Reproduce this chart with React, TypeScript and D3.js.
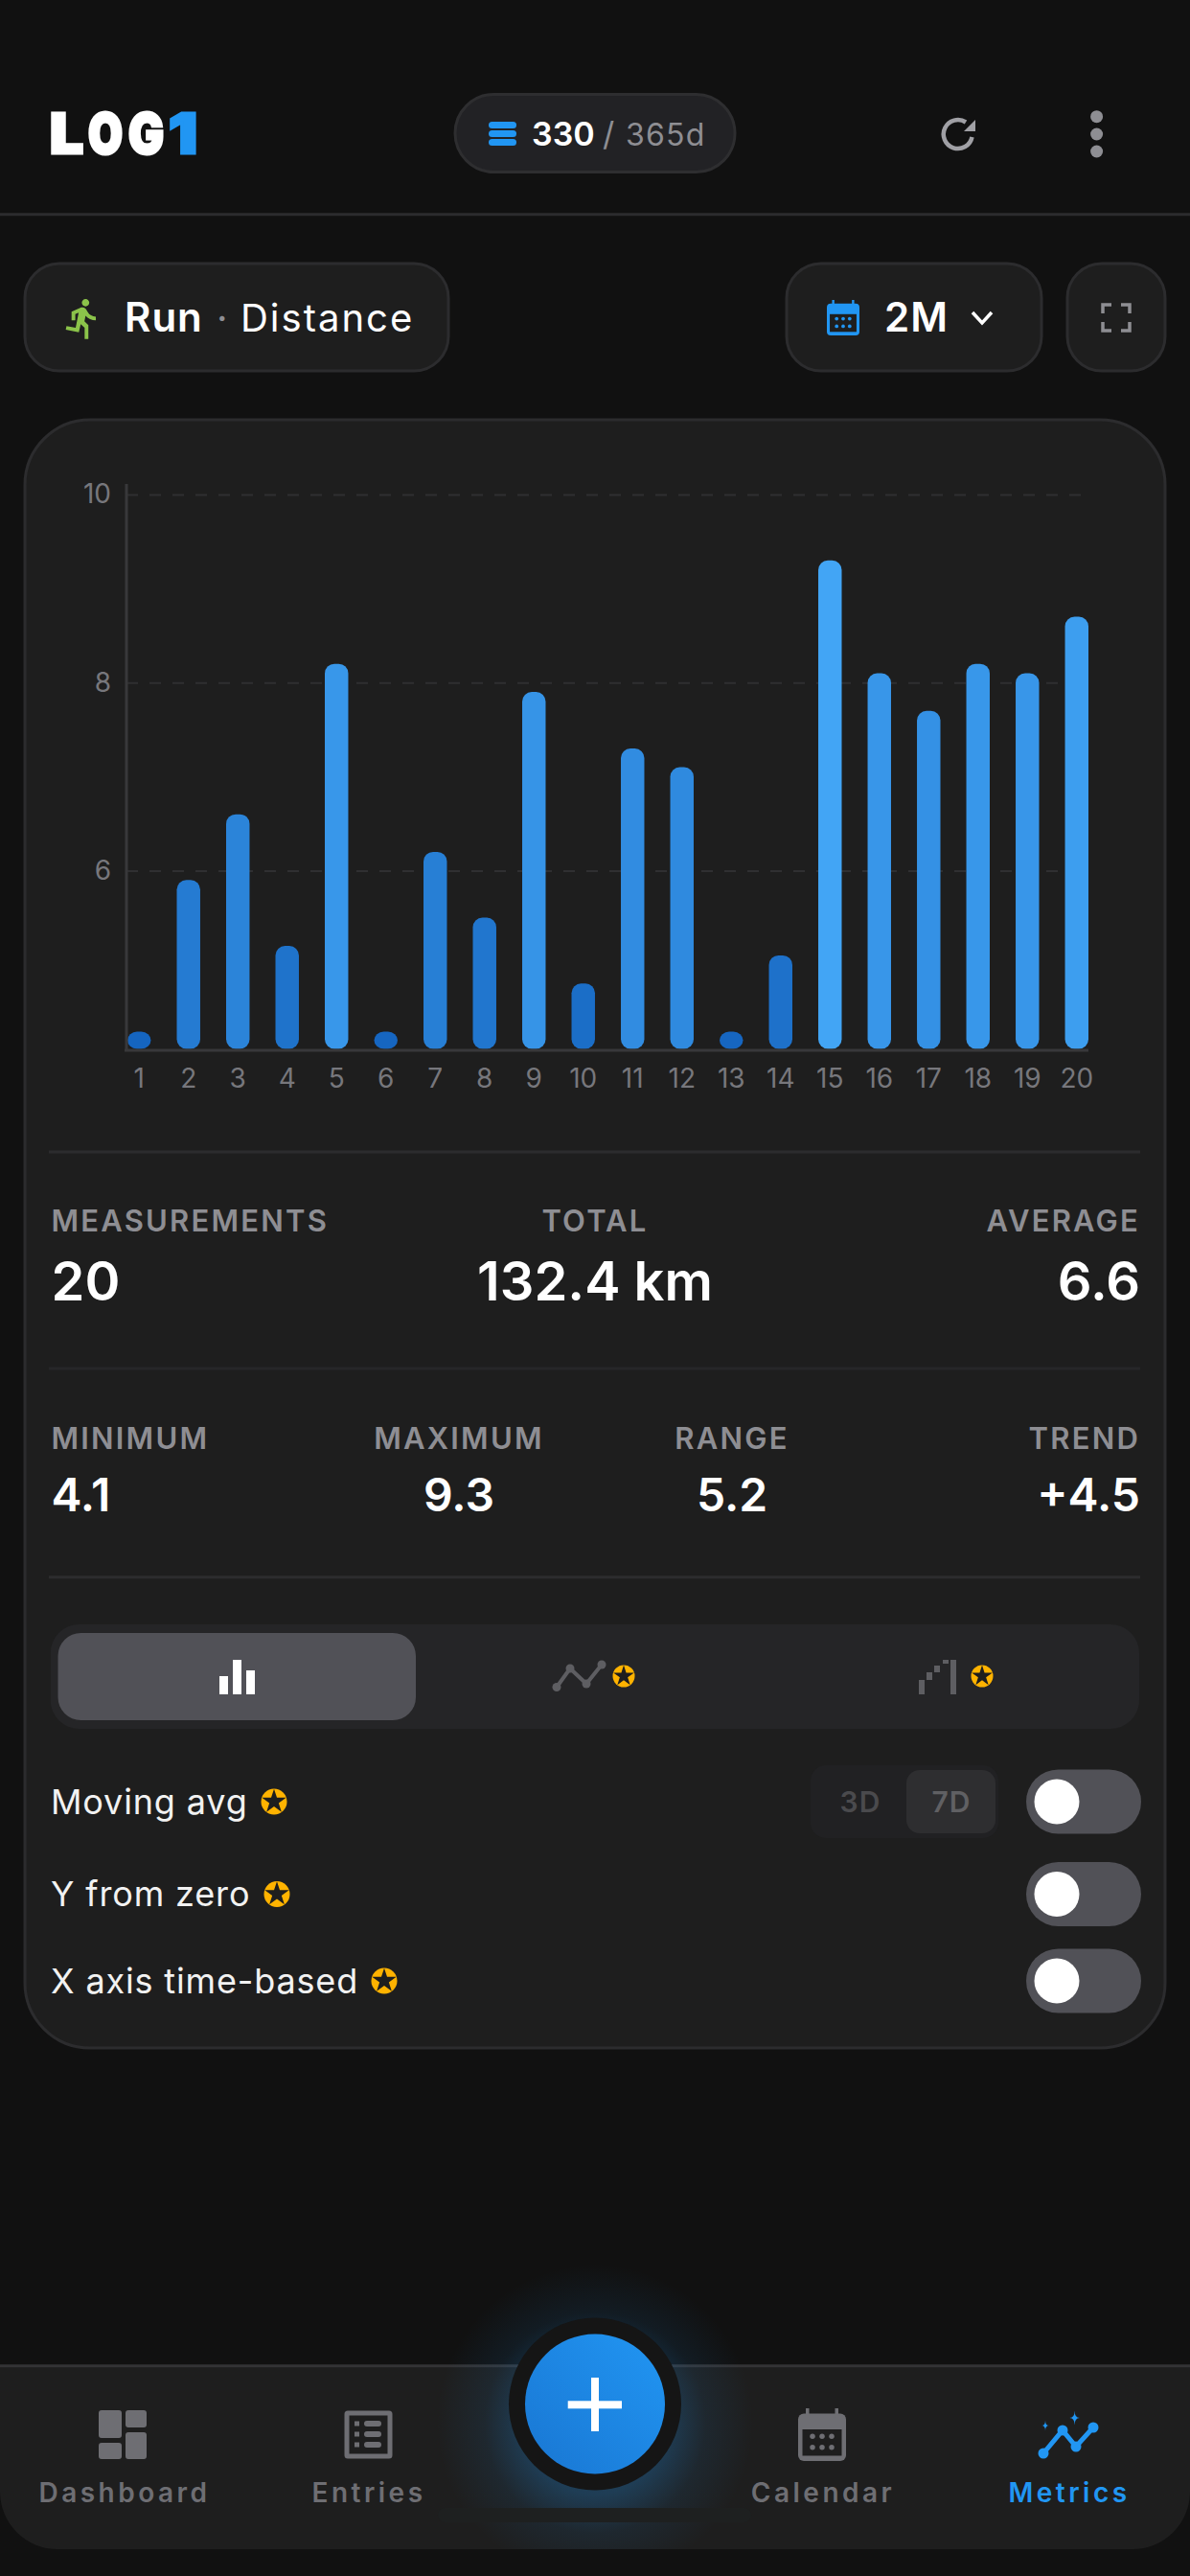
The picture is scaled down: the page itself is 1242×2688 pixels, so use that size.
import * as d3 from 'd3'
import { useEffect, useRef } from 'react'

const days = d3.range(1, 21).map(String)
const distance = [4.1, 5.9, 6.6, 5.2, 8.2, 4.2, 6.2, 5.5, 7.9, 4.8, 7.3, 7.1, 4.2, 5.1, 9.3, 8.1, 7.7, 8.2, 8.1, 8.7]
const yTicks = [6, 8, 10]
const topStatLabels = ['MEASUREMENTS', 'TOTAL', 'AVERAGE']
const topStatValues = ['20', '132.4 km', '6.6']
const lowStatLabels = ['MINIMUM', 'MAXIMUM', 'RANGE', 'TREND']
const lowStatValues = ['4.1', '9.3', '5.2', '+4.5']
const toggleLabels = ['Moving avg', 'Y from zero', 'X axis time-based']
const navLabels = ['Dashboard', 'Entries', 'Calendar', 'Metrics']
const logoLetters = ['L', 'O', 'G', '1']

const FONT = 'Inter, sans-serif'
const BLUE = '#2196f3'
const GRAY = '#8e8e93'
const NAVGRAY = '#6e6e73'
const AMBER = '#ffb300'
const LINE = '#2c2c2e'
const MIN_BAR = 18

const spark = (cx, cy, h) => `M${cx},${cy - h}Q${cx},${cy} ${cx + h * 0.7},${cy}Q${cx},${cy} ${cx},${cy + h}Q${cx},${cy} ${cx - h * 0.7},${cy}Q${cx},${cy} ${cx},${cy - h}Z`

const Star = ({ x, y, r = 13 }) => (
  <g transform={`translate(${x},${y})`}>
    <circle r={r} fill={AMBER} />
    <path d={d3.symbol(d3.symbolStar, r * r * 1.1)()} fill="#1e1e1e" />
  </g>
)

const Toggle = ({ y }) => (
  <g>
    <rect x={1071} y={y - 33.5} width={120} height={67} rx={33.5} fill="#515157" />
    <circle cx={1103} cy={y} r={23.5} fill="#fff" />
  </g>
)

const CalendarIcon = ({ x, y, w, h, color, bodyFill }) => (
  <g>
    <rect x={x} y={y + h * 0.1} width={w} height={h * 0.9} rx={w * 0.12} fill={color} />
    <rect x={x + w * 0.16} y={y} width={w * 0.07} height={h * 0.18} fill={color} />
    <rect x={x + w * 0.77} y={y} width={w * 0.07} height={h * 0.18} fill={color} />
    <rect x={x + w * 0.09} y={y + h * 0.4} width={w * 0.82} height={h * 0.5} fill={bodyFill} />
    {[0.3, 0.5, 0.7].flatMap(fx => [0.53, 0.74].map(fy => (
      <circle key={`${fx}${fy}`} cx={x + w * fx} cy={y + h * fy} r={w * 0.055} fill={color} />
    )))}
  </g>
)

export default function App() {
  const chartRef = useRef(null)

  useEffect(() => {
    const g = d3.select(chartRef.current)
    g.selectAll('*').remove()

    const xScale = d3.scaleBand().domain(days).range([133, 1136]).paddingInner(0.525).paddingOuter(0)
    const yScale = d3.scaleLinear().domain([4.09, 10]).range([1096, 516])
    const color = d3.scaleLinear().domain([4.1, 9.3]).range(['#1565c0', '#42a5f5'])

    // dashed grid
    const grid = g.append('g').attr('transform', 'translate(132,0)')
      .call(d3.axisLeft(yScale).tickValues(yTicks).tickSize(-1004).tickFormat(() => ''))
    grid.select('.domain').remove()
    grid.selectAll('.tick line').attr('stroke', '#2f2f31').attr('stroke-width', 2).attr('stroke-dasharray', '12 12')

    // bars
    g.selectAll('rect.bar')
      .data(distance)
      .enter()
      .append('rect')
      .attr('class', 'bar')
      .attr('x', (d, i) => xScale(days[i]))
      .attr('width', xScale.bandwidth())
      .attr('y', d => Math.min(yScale(d), 1094.5 - MIN_BAR))
      .attr('height', d => Math.max(1094.5 - yScale(d), MIN_BAR))
      .attr('rx', 10)
      .attr('fill', d => color(d))

    // y labels
    const yAxis = g.append('g').attr('transform', 'translate(132,0)')
      .call(d3.axisLeft(yScale).tickValues(yTicks).tickSize(0).tickPadding(16).tickFormat(d3.format('d')))
    yAxis.select('.domain').remove()
    yAxis.selectAll('text').attr('fill', '#77777c').attr('font-size', 28).attr('font-family', FONT)

    // x labels
    const xAxis = g.append('g').attr('transform', 'translate(0,1096)')
      .call(d3.axisBottom(xScale).tickSize(0).tickPadding(19))
    xAxis.select('.domain').remove()
    xAxis.selectAll('text').attr('fill', '#77777c').attr('font-size', 28).attr('font-family', FONT)

    // axis lines
    g.append('line').attr('x1', 132).attr('x2', 132).attr('y1', 505).attr('y2', 1097).attr('stroke', '#38383a').attr('stroke-width', 3)
    g.append('line').attr('x1', 130).attr('x2', 1136).attr('y1', 1096).attr('y2', 1096).attr('stroke', '#38383a').attr('stroke-width', 3)
  }, [])

  const logoX = [52, 92, 134, 176]
  const logoW = [35, 36, 37, 30]
  const topX = [53.5, 621, 1190]
  const topAnchor = ['start', 'middle', 'end']
  const lowX = [53.5, 479, 764, 1190]
  const lowAnchor = ['start', 'middle', 'middle', 'end']
  const toggleY = [1880, 1976.5, 2067]
  const starX = [286, 289, 401]
  const navX = [130, 385, 859, 1116]

  return (
    <svg width={1242} height={2688} viewBox="0 0 1242 2688" fontFamily={FONT}
      style={{ position: 'absolute', left: 0, top: 0, background: '#111111' }}>
      <defs>
        <linearGradient id="fab" x1="1" y1="0" x2="0" y2="1">
          <stop offset="0%" stopColor="#2196f3" />
          <stop offset="100%" stopColor="#1976d2" />
        </linearGradient>
        <radialGradient id="glow">
          <stop offset="45%" stopColor="#2196f3" stopOpacity={0.26} />
          <stop offset="70%" stopColor="#2196f3" stopOpacity={0.08} />
          <stop offset="100%" stopColor="#2196f3" stopOpacity={0} />
        </radialGradient>
        <clipPath id="glowClip"><rect x={0} y={0} width={1242} height={2660} /></clipPath>
      </defs>

      {/* header */}
      {logoLetters.map((t, i) => (
        <text key={t} x={logoX[i]} y={160} fontSize={58} fontWeight={900} textLength={logoW[i]} lengthAdjust="spacingAndGlyphs"
          fill={i === 3 ? BLUE : '#fff'} stroke={i === 3 ? BLUE : '#fff'} strokeWidth={3}>{t}</text>
      ))}
      <rect x={475} y={98.5} width={292} height={81} rx={40.5} fill="#222225" stroke="#2e2e30" strokeWidth={3} />
      {[127, 136, 145].map(y => <rect key={y} x={510} y={y} width={29} height={7} rx={3.5} fill={BLUE} />)}
      <text x={555} y={152} fontSize={34} fontWeight={600} fill="#fff">330</text>
      <text x={629} y={152} fontSize={34} fill={GRAY}>/</text>
      <text x={653} y={152} fontSize={32} letterSpacing={1.2} fill={GRAY}>365d</text>
      <path d="M1008,127.5 A15,15 0 1 0 1014.5,143" fill="none" stroke="#a0a0a5" strokeWidth={4.5} />
      <path d="M1018,125 V137 H1006 Z" fill="#a0a0a5" />
      {[121.7, 140, 158].map(y => <circle key={y} cx={1144.6} cy={y} r={6.5} fill={GRAY} />)}
      <line x1={0} x2={1242} y1={223.7} y2={223.7} stroke={LINE} strokeWidth={3} />

      {/* selectors */}
      <rect x={26} y={275} width={442} height={112} rx={36} fill="#1e1e1e" stroke={LINE} strokeWidth={3} />
      <path transform="translate(63,309) scale(1.95)" fill="#8bc34a"
        d="M13.49 5.48c1.1 0 2-.9 2-2s-.9-2-2-2-2 .9-2 2 .9 2 2 2zm-3.6 13.9l1-4.4 2.1 2v6h2v-7.5l-2.1-2 .6-3c1.3 1.5 3.3 2.5 5.5 2.5v-2c-1.9 0-3.5-1-4.3-2.4l-1-1.6c-.4-.6-1-1-1.7-1-.3 0-.5.1-.8.1l-5.2 2.2v4.7h2v-3.4l1.8-.7-1.6 8.1-4.9-1-.4 2 7 1.4z" />
      <text x={130} y={346} fontSize={42} fontWeight={600} letterSpacing={1} fill="#fff">Run</text>
      <text x={226} y={346} fontSize={40} fill={GRAY}>·</text>
      <text x={251} y={346} fontSize={40} letterSpacing={2} fill="#fff">Distance</text>

      <rect x={821} y={275} width={266} height={112} rx={36} fill="#1e1e1e" stroke={LINE} strokeWidth={3} />
      <CalendarIcon x={863} y={313} w={34} h={37} color={BLUE} bodyFill="#1e1e1e" />
      <text x={923} y={346} fontSize={42} fontWeight={600} letterSpacing={1} fill="#fff">2M</text>
      <path d="M1015,326 L1025,337 L1035,326" fill="none" stroke="#fff" strokeWidth={3.5} />
      <rect x={1114} y={275} width={102} height={112} rx={36} fill="#1e1e1e" stroke={LINE} strokeWidth={3} />
      <path d="M1151,327 V318 H1160 M1170,318 H1179 V327 M1179,336 V345 H1170 M1160,345 H1151 V336" fill="none" stroke={GRAY} strokeWidth={3.5} />

      {/* card */}
      <rect x={26} y={438} width={1190} height={1699} rx={68} fill="#1e1e1e" stroke={LINE} strokeWidth={3} />
      <g ref={chartRef} />

      <line x1={51} x2={1190} y1={1202} y2={1202} stroke={LINE} strokeWidth={3} />
      {topStatLabels.map((t, i) => (
        <text key={t} x={topX[i]} y={1285} textAnchor={topAnchor[i]} fontSize={31} fontWeight={600} letterSpacing={2.2} fill={GRAY}>{t}</text>
      ))}
      {topStatValues.map((t, i) => (
        <text key={t} x={topX[i]} y={1356.5} textAnchor={topAnchor[i]} fontSize={56} fontWeight={600} fill="#fff">{t}</text>
      ))}
      <line x1={51} x2={1190} y1={1428} y2={1428} stroke="#262628" strokeWidth={3} />
      {lowStatLabels.map((t, i) => (
        <text key={t} x={lowX[i]} y={1511.5} textAnchor={lowAnchor[i]} fontSize={31} fontWeight={600} letterSpacing={2.2} fill={GRAY}>{t}</text>
      ))}
      {lowStatValues.map((t, i) => (
        <text key={t} x={lowX[i]} y={1577} textAnchor={lowAnchor[i]} fontSize={48} fontWeight={600} fill="#fff">{t}</text>
      ))}
      <line x1={51} x2={1190} y1={1645.7} y2={1645.7} stroke={LINE} strokeWidth={3} />

      {/* chart type */}
      <rect x={52.7} y={1695} width={1136.3} height={109} rx={30} fill="#252527" />
      <rect x={60.5} y={1704} width={373.5} height={91} rx={24} fill="#515157" />
      <rect x={229} y={1749} width={9} height={19} fill="#fff" />
      <rect x={243} y={1732} width={9} height={36} fill="#fff" />
      <rect x={257} y={1743} width={9} height={25} fill="#fff" />
      <path d="M581,1760.5 L595,1741 L612,1757 L628,1737" fill="none" stroke="#5e5e62" strokeWidth={4} />
      {[[581, 1760.5], [595, 1741], [612, 1757], [628, 1737]].map(([x, y]) => <circle key={x} cx={x} cy={y} r={4.5} fill="#5e5e62" />)}
      <Star x={651} y={1749} r={11.5} />
      <rect x={959} y={1753} width={6} height={15} fill="#5e5e62" />
      <rect x={967} y={1745} width={6} height={8} fill="#5e5e62" />
      <rect x={975} y={1738} width={6} height={7} fill="#5e5e62" />
      <rect x={984} y={1732} width={6} height={4} fill="#5e5e62" />
      <rect x={992} y={1732} width={6} height={36} fill="#5e5e62" />
      <Star x={1025} y={1749} r={11.5} />

      {/* toggles */}
      {toggleLabels.map((t, i) => (
        <g key={t}>
          <text x={53} y={toggleY[i] + 12.5} fontSize={36} letterSpacing={0.85} fill="#f2f2f2">{t}</text>
          <Star x={starX[i]} y={toggleY[i]} r={13.5} />
          <Toggle y={toggleY[i]} />
        </g>
      ))}
      <rect x={846} y={1842} width={196} height={76} rx={16} fill="#212123" />
      <rect x={946} y={1847} width={93} height={66} rx={14} fill="#2e2e30" />
      <text x={898} y={1891} textAnchor="middle" fontSize={30} fontWeight={600} letterSpacing={1} fill="#4a4a4d">3D</text>
      <text x={993} y={1891} textAnchor="middle" fontSize={30} fontWeight={600} letterSpacing={1} fill="#606063">7D</text>

      {/* nav */}
      <path d="M0,2468.7 H1242 V2600 A60,60 0 0 1 1182,2660 H60 A60,60 0 0 1 0,2600 Z" fill="#1e1e1e" />
      <line x1={0} x2={1242} y1={2468.7} y2={2468.7} stroke="#333335" strokeWidth={3} />
      <circle cx={621} cy={2528} r={165} fill="url(#glow)" clipPath="url(#glowClip)" />
      <circle cx={621} cy={2508.5} r={90} fill="#151515" />
      <circle cx={621} cy={2508.5} r={73} fill="url(#fab)" />
      <rect x={592.7} y={2505.3} width={56.3} height={8} fill="#fff" />
      <rect x={617} y={2481} width={8} height={56} fill="#fff" />
      <rect x={457} y={2617} width={327} height={15} rx={7.5} fill="#1e2020" />

      <rect x={103} y={2515} width={24} height={29} rx={3} fill={NAVGRAY} />
      <rect x={131} y={2515} width={22} height={18} rx={3} fill={NAVGRAY} />
      <rect x={103} y={2549} width={24} height={17} rx={3} fill={NAVGRAY} />
      <rect x={131} y={2538} width={22} height={28} rx={3} fill={NAVGRAY} />

      <rect x={362} y={2518} width={45} height={45} fill="none" stroke={NAVGRAY} strokeWidth={5} rx={1} />
      {[2529, 2540, 2551].map(y => (
        <g key={y}>
          <rect x={370} y={y - 2.5} width={5} height={5} fill={NAVGRAY} />
          <rect x={380} y={y - 3} width={18} height={6} rx={3} fill={NAVGRAY} />
        </g>
      ))}
      <CalendarIcon x={833} y={2513} w={50} h={55} color={NAVGRAY} bodyFill="#1e1e1e" />

      <path d="M1089,2560 L1109,2536 L1123,2553 L1141,2533" fill="none" stroke={BLUE} strokeWidth={5} />
      {[[1089, 2560], [1109, 2536], [1123, 2553], [1141, 2533]].map(([x, y]) => <circle key={x} cx={x} cy={y} r={5.5} fill={BLUE} />)}
      <path d={spark(1121.6, 2523, 7.5)} fill={BLUE} />
      <path d={spark(1091, 2531, 5.5)} fill={BLUE} />

      {navLabels.map((t, i) => (
        <text key={t} x={navX[i]} y={2610.5} textAnchor="middle" fontSize={28} fontWeight={600} letterSpacing={3.5} fill={i === 3 ? BLUE : NAVGRAY}>{t}</text>
      ))}
    </svg>
  )
}
